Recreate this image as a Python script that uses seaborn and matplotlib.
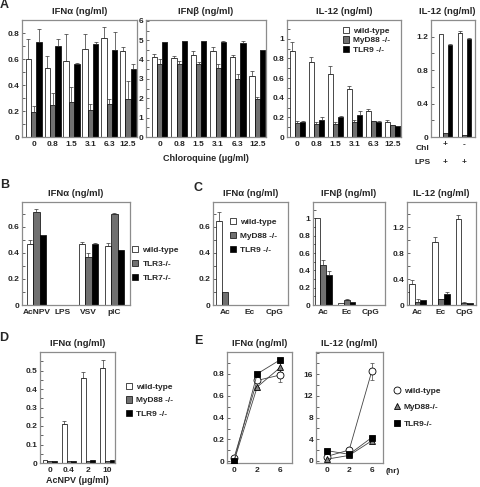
import numpy as np
import pandas as pd
import matplotlib
matplotlib.use("Agg")
import matplotlib.pyplot as plt
from matplotlib.patches import Patch
from matplotlib.lines import Line2D
from matplotlib.ticker import AutoMinorLocator
import seaborn as sns

# ---- data ----
geno_myd = ["wild-type", "MyD88 -/-", "TLR9 -/-"]
geno_tlr = ["wild-type", "TLR3-/-", "TLR7-/-"]
geno_e = ["wild-type", "MyD88-/-", "TLR9-/-"]
bar_colors = ["white", "#707070", "black"]

chloroquine = ["0", "0.8", "1.5", "3.1", "6.3", "12.5"]

# A: IFNa
a_ifna_wt = [0.60, 0.53, 0.585, 0.68, 0.76, 0.665]
a_ifna_wt_err = [0.154, 0.09, 0.205, 0.11, 0.086, 0.03]
a_ifna_myd = [0.19, 0.25, 0.27, 0.208, 0.255, 0.293]
a_ifna_myd_err = [0.045, 0.087, 0.113, 0.047, 0.038, 0.134]
a_ifna_tlr9 = [0.733, 0.697, 0.56, 0.712, 0.666, 0.522]
a_ifna_tlr9_err = [0.097, 0.057, 0.008, 0.016, 0.139, 0.039]

# A: IFNb
a_ifnb_wt = [4.15, 4.1, 4.25, 4.45, 4.15, 3.15]
a_ifnb_wt_err = [0.15, 0.1, 0.2, 0.2, 0.1, 0.25]
a_ifnb_myd = [3.8, 3.8, 3.8, 3.55, 3.0, 1.95]
a_ifnb_myd_err = [0.25, 0.15, 0.1, 0.25, 0.25, 0.1]
a_ifnb_tlr9 = [4.9, 4.95, 4.95, 4.93, 4.85, 4.48]
a_ifnb_tlr9_err = [0.02, 0.03, 0.02, 0.03, 0.1, 0.04]

# A: IL-12
a_il12_wt = [0.87, 0.76, 0.645, 0.49, 0.265, 0.155]
a_il12_wt_err = [0.1, 0.05, 0.075, 0.03, 0.02, 0.02]
a_il12_myd = [0.145, 0.13, 0.13, 0.155, 0.16, 0.12]
a_il12_myd_err = [0.02, 0.02, 0.02, 0.02, 0.005, 0.005]
a_il12_tlr9 = [0.15, 0.17, 0.2, 0.22, 0.155, 0.11]
a_il12_tlr9_err = [0.01, 0.03, 0.015, 0.04, 0.005, 0.005]

# A: IL-12, Chl / LPS
chl_cats = ["+", "-"]
lps_row = ["+", "+"]
a_lps_wt = [1.23, 1.24]
a_lps_wt_err = [0.0, 0.03]
a_lps_myd = [0.05, 0.02]
a_lps_tlr9 = [1.1, 1.17]
a_lps_tlr9_err = [0.01, 0.02]

# B
b_cats = ["AcNPV", "LPS", "VSV", "pIC"]
b_wt = [0.465, 0, 0.47, 0.45]
b_wt_err = [0.035, 0, 0.015, 0.027]
b_tlr3 = [0.71, 0, 0.365, 0.697]
b_tlr3_err = [0.028, 0, 0.032, 0.007]
b_tlr7 = [0.535, 0, 0.47, 0.423]
b_tlr7_err = [0.003, 0, 0.005, 0]

# C
c_cats = ["Ac", "Ec", "CpG"]
c_ifna_wt = [0.645, 0, 0]
c_ifna_wt_err = [0.065, 0, 0]
c_ifna_myd = [0.1, 0, 0]
c_ifna_tlr9 = [0, 0, 0]
c_ifnb_wt = [1.0, 0.02, 0]
c_ifnb_myd = [0.46, 0.058, 0]
c_ifnb_myd_err = [0.065, 0.01, 0]
c_ifnb_tlr9 = [0.346, 0.03, 0]
c_ifnb_tlr9_err = [0.045, 0.005, 0]
c_il12_wt = [0.33, 0.98, 1.33]
c_il12_wt_err = [0.06, 0.07, 0.06]
c_il12_myd = [0.05, 0.09, 0.035]
c_il12_myd_err = [0.05, 0.005, 0.01]
c_il12_tlr9 = [0.077, 0.17, 0.025]
c_il12_tlr9_err = [0.005, 0.03, 0.005]

# D
d_cats = ["0", "0.4", "2", "10"]
d_wt = [0.018, 0.213, 0.46, 0.515]
d_wt_err = [0, 0.012, 0.032, 0.042]
d_myd = [0.01, 0.01, 0.01, 0.01]
d_tlr9 = [0.012, 0.012, 0.015, 0.015]

# E
e_time = ["0", "2", "6"]
e_ifna_wt = [0.03, 0.74, 0.79]
e_ifna_wt_err = [0, 0, 0.06]
e_ifna_myd = [0.0, 0.68, 0.86]
e_ifna_myd_err = [0, 0, 0.04]
e_ifna_tlr9 = [0.0, 0.80, 0.93]
e_il12_wt = [0.8, 2.0, 16.5]
e_il12_wt_err = [0, 0, 1.6]
e_il12_myd = [0.3, 1.0, 3.7]
e_il12_tlr9 = [1.9, 1.2, 4.3]

# ---- figure ----
sns.set_theme(style="white")
plt.rcParams["font.family"] = ["Liberation Sans", "DejaVu Sans"]
plt.rcParams["font.weight"] = "bold"

W, H = 480, 487
fig = plt.figure(figsize=(W / 100, H / 100), dpi=100)


def box(l, t, r, b):
    return [l / W, 1 - b / H, (r - l) / W, (b - t) / H]


def style(ax, ylim, yticks, ylabels, xlim, title, tx=0.5):
    ax.set_ylim(*ylim)
    ax.set_xlim(*xlim)
    ax.set_yticks(yticks)
    ax.set_yticklabels(ylabels)
    ax.yaxis.set_minor_locator(AutoMinorLocator(2))
    ax.tick_params(axis="y", which="both", direction="in", length=2, width=0.5,
                   labelsize=6, pad=2, left=True)
    ax.tick_params(axis="x", length=0, labelsize=6, pad=3)
    for s in ax.spines.values():
        s.set_color("#8c8c8c")
        s.set_linewidth(0.9)
    ax.set_xlabel("")
    ax.set_ylabel("")
    ax.set_title(title, fontsize=6.8, fontweight="bold", pad=4, x=tx)


def draw_bars(ax, cats, labels, series, errors, width):
    df = pd.DataFrame({
        "cat": [c for _ in labels for c in cats],
        "geno": [g for g in labels for _ in cats],
        "val": [v for s in series for v in s],
    })
    sns.barplot(data=df, x="cat", y="val", hue="geno", order=cats, hue_order=labels,
                palette=dict(zip(labels, bar_colors)), saturation=1, width=width,
                edgecolor="black", linewidth=0.5, errorbar=None, legend=False, ax=ax)
    for cont, err in zip(ax.containers, errors):
        if err is None:
            continue
        xs, ys, es = [], [], []
        for p, e in zip(cont, err):
            if e > 0:
                xs.append(p.get_x() + p.get_width() / 2)
                ys.append(p.get_height())
                es.append(e)
        if xs:
            ax.errorbar(xs, ys, yerr=[np.zeros(len(es)), es], fmt="none", ecolor="#333333",
                        elinewidth=0.5, capsize=1.3, capthick=0.5, zorder=3)


def sq_legend(ax, labels, x, y, spacing):
    handles = [Patch(facecolor=c, edgecolor="black", linewidth=0.5) for c in bar_colors]
    ax.legend(handles, labels, loc="upper left", bbox_to_anchor=(x / W, 1 - y / H),
              bbox_transform=fig.transFigure, frameon=False, fontsize=6,
              handlelength=0.75, handleheight=0.75, handletextpad=0.5,
              labelspacing=spacing, borderpad=0, borderaxespad=0)


def letter(x, y, s):
    fig.text(x / W, 1 - y / H, s, fontsize=9, fontweight="bold", ha="center", va="center")


# ---- A ----
ax = fig.add_axes(box(22, 20, 137, 137))
draw_bars(ax, chloroquine, geno_myd, [a_ifna_wt, a_ifna_myd, a_ifna_tlr9],
          [a_ifna_wt_err, a_ifna_myd_err, a_ifna_tlr9_err], 0.85)
style(ax, (0, 0.9), [0, 0.2, 0.4, 0.6, 0.8], ["0", "0.2", "0.4", "0.6", "0.8"],
      (-0.62, 5.47), "IFNα (ng/ml)")

ax = fig.add_axes(box(146, 20, 266, 137))
draw_bars(ax, chloroquine, geno_myd, [a_ifnb_wt, a_ifnb_myd, a_ifnb_tlr9],
          [a_ifnb_wt_err, a_ifnb_myd_err, a_ifnb_tlr9_err], 0.8)
style(ax, (0, 6.05), [0, 1, 2, 3, 4, 5, 6], ["0", "1", "2", "3", "4", "5", "6"],
      (-0.7, 5.45), "IFNβ (ng/ml)")
ax.set_xlabel("Chloroquine (μg/ml)", fontsize=6.5, fontweight="bold", labelpad=4)

ax = fig.add_axes(box(287, 20, 401, 137))
draw_bars(ax, chloroquine, geno_myd, [a_il12_wt, a_il12_myd, a_il12_tlr9],
          [a_il12_wt_err, a_il12_myd_err, a_il12_tlr9_err], 0.8)
style(ax, (0, 1.19), [0, 0.2, 0.4, 0.6, 0.8, 1.0], ["0", "0.2", "0.4", "0.6", "0.8", "1"],
      (-0.55, 5.45), "IL-12 (ng/ml)")
sq_legend(ax, geno_myd, 343, 27, 0.18)

ax = fig.add_axes(box(431, 20, 475, 137))
draw_bars(ax, chl_cats, geno_myd, [a_lps_wt, a_lps_myd, a_lps_tlr9],
          [a_lps_wt_err, None, a_lps_tlr9_err], 0.7)
style(ax, (0, 1.4), [0, 0.4, 0.8, 1.2], ["0", "0.4", "0.8", "1.2"],
      (-0.75, 1.55), "IL-12 (ng/ml)", tx=0.36)
for i, s in enumerate(lps_row):
    ax.text(i, -0.215, s, transform=ax.get_xaxis_transform(), ha="center", va="center",
            fontsize=6, fontweight="bold")
fig.text(423 / W, 1 - 148 / H, "Chl", fontsize=6, fontweight="bold", ha="center", va="center")
fig.text(423 / W, 1 - 163 / H, "LPS", fontsize=6, fontweight="bold", ha="center", va="center")

# ---- B ----
ax = fig.add_axes(box(22, 202, 130, 305))
draw_bars(ax, b_cats, geno_tlr, [b_wt, b_tlr3, b_tlr7], [b_wt_err, b_tlr3_err, b_tlr7_err], 0.75)
style(ax, (0, 0.79), [0, 0.2, 0.4, 0.6], ["0", "0.2", "0.4", "0.6"], (-0.55, 3.6), "IFNα (ng/ml)")
sq_legend(ax, geno_tlr, 132, 246, 0.7)

# ---- C ----
ax = fig.add_axes(box(213, 202, 288, 305))
draw_bars(ax, c_cats, geno_myd, [c_ifna_wt, c_ifna_myd, c_ifna_tlr9],
          [c_ifna_wt_err, None, None], 0.7)
style(ax, (0, 0.79), [0, 0.2, 0.4, 0.6], ["0", "0.2", "0.4", "0.6"], (-0.49, 2.57), "IFNα (ng/ml)")
sq_legend(ax, geno_myd, 230, 218, 0.7)

ax = fig.add_axes(box(313, 202, 385, 305))
draw_bars(ax, c_cats, geno_myd, [c_ifnb_wt, c_ifnb_myd, c_ifnb_tlr9],
          [None, c_ifnb_myd_err, c_ifnb_tlr9_err], 0.72)
style(ax, (0, 1.19), [0, 0.2, 0.4, 0.6, 0.8, 1.0], ["0", "0.2", "0.4", "0.6", "0.8", "1"],
      (-0.43, 2.62), "IFNβ (ng/ml)")

ax = fig.add_axes(box(407, 202, 476, 305))
draw_bars(ax, c_cats, geno_myd, [c_il12_wt, c_il12_myd, c_il12_tlr9],
          [c_il12_wt_err, c_il12_myd_err, c_il12_tlr9_err], 0.75)
style(ax, (0, 1.59), [0, 0.4, 0.8, 1.2], ["0", "0.4", "0.8", "1.2"], (-0.45, 2.5), "IL-12 (ng/ml)")

# ---- D ----
ax = fig.add_axes(box(40, 352, 115, 463))
draw_bars(ax, d_cats, geno_myd, [d_wt, d_myd, d_tlr9], [d_wt_err, None, None], 0.72)
style(ax, (0, 0.6), [0, 0.1, 0.2, 0.3, 0.4, 0.5], ["0", "0.1", "0.2", "0.3", "0.4", "0.5"],
      (-0.5, 3.4), "IFNα (ng/ml)")
ax.set_xlabel("AcNPV (μg/ml)", fontsize=6.5, fontweight="bold", labelpad=1)
sq_legend(ax, geno_myd, 126, 383, 0.66)

# ---- E ----
e_styles = [("o", "white", 5.0), ("^", "#808080", 4.8), ("s", "black", 4.3)]
x_e = np.arange(len(e_time))

ax = fig.add_axes(box(227, 352, 292, 463))
for vals, errs, (mk, fc, ms) in zip([e_ifna_wt, e_ifna_myd, e_ifna_tlr9],
                                     [e_ifna_wt_err, e_ifna_myd_err, None], e_styles):
    sns.lineplot(x=x_e, y=vals, ax=ax, color="#444444", lw=0.6, marker=mk, markersize=ms,
                 markerfacecolor=fc, markeredgecolor="black", markeredgewidth=0.6,
                 errorbar=None, zorder=3)
    if errs is not None:
        ax.errorbar(x_e, vals, yerr=errs, fmt="none", ecolor="#444444", elinewidth=0.5,
                    capsize=1.5, capthick=0.5, zorder=2)
ax.set_xticks(x_e)
ax.set_xticklabels(e_time)
style(ax, (-0.015, 1.0), [0, 0.2, 0.4, 0.6, 0.8], ["0", "0.2", "0.4", "0.6", "0.8"],
      (-0.3, 2.5), "IFNα (ng/ml)")

ax = fig.add_axes(box(316, 352, 383, 463))
for vals, errs, (mk, fc, ms) in zip([e_il12_wt, e_il12_myd, e_il12_tlr9],
                                     [e_il12_wt_err, None, None], e_styles):
    sns.lineplot(x=x_e, y=vals, ax=ax, color="#444444", lw=0.6, marker=mk, markersize=ms,
                 markerfacecolor=fc, markeredgecolor="black", markeredgewidth=0.6,
                 errorbar=None, zorder=3)
    if errs is not None:
        ax.errorbar(x_e, vals, yerr=errs, fmt="none", ecolor="#444444", elinewidth=0.5,
                    capsize=1.5, capthick=0.5, zorder=2)
ax.set_xticks(x_e)
ax.set_xticklabels(e_time)
style(ax, (-0.4, 20.1), [0, 4, 8, 12, 16], ["0", "4", "8", "12", "16"], (-0.47, 2.5), "IL-12 (ng/ml)")
ax.text(2.62, -0.075, "(hr)", transform=ax.get_xaxis_transform(), ha="left", va="center",
        fontsize=6, fontweight="bold")
e_handles = [Line2D([], [], ls="none", marker=mk, markersize=ms, markerfacecolor=fc,
                    markeredgecolor="black", markeredgewidth=0.6) for mk, fc, ms in e_styles]
ax.legend(e_handles, geno_e, loc="upper left", bbox_to_anchor=(394 / W, 1 - 387 / H),
          bbox_transform=fig.transFigure, frameon=False, fontsize=6, handlelength=0.8,
          handletextpad=0.4, labelspacing=1.05, borderpad=0, borderaxespad=0)

# ---- panel letters ----
letter(4, 5, "A")
letter(5, 185, "B")
letter(198, 188, "C")
letter(4, 338, "D")
letter(198, 341, "E")

fig.savefig("out.png", dpi=100)
